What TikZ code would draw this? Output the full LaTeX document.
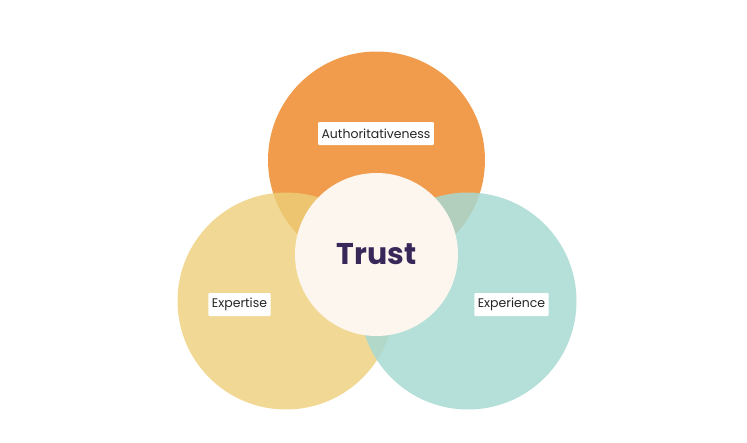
\documentclass[tikz,border=0pt]{standalone}
\usepackage{fontspec}
\setmainfont{Poppins}
\usetikzlibrary{positioning}
\definecolor{authcol}{HTML}{F09C4C}
\definecolor{expcol}{HTML}{EDD07A}
\definecolor{xpcol}{HTML}{A8D9D2}
\definecolor{trustcol}{HTML}{FDF6EF}
\definecolor{trusttext}{HTML}{36295A}
\tikzstyle{petal} = [circle, minimum size=217pt, inner sep=0pt]
\tikzstyle{core} = [circle, minimum size=163pt, inner sep=0pt, fill=trustcol,
    text=trusttext, font=\fontsize{30}{30}\selectfont\bfseries]
\tikzstyle{tag} = [rectangle, fill=white, rounded corners=1pt, text=black!85,
    minimum height=23pt, inner xsep=3.5pt, font=\fontsize{12.5}{13}\selectfont]

\begin{document}
\begin{tikzpicture}[x=1pt, y=-1pt]
	\useasboundingbox (0,0) rectangle (747,442);
	\node [petal, fill=authcol] (auth) at (376.5,160) {};
	\node [petal, fill=expcol, fill opacity=0.8] (exp) at (286,301) {};
	\node [petal, fill=xpcol, fill opacity=0.85] (xp) at (468,301) {};
	\node [core] (trust) at (376.5,254.5) {Trust};
	
	\node [tag] (authlab) at (376,133.5) {Authoritativeness};
	\node [tag] (explab) at (239.5,304.5) {Expertise};
	\node [tag] (xplab) at (511.5,304.5) {Experience};
\end{tikzpicture}
\end{document}
